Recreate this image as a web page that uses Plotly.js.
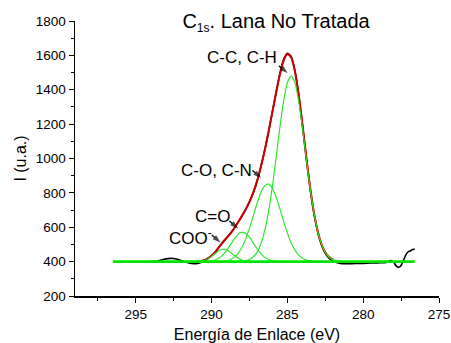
<!DOCTYPE html>
<html>
<head>
<meta charset="utf-8">
<script src="https://cdn.plot.ly/plotly-3.0.1.min.js"></script>
<style>
  html, body { margin: 0; padding: 0; background: #fff; }
  #chart { width: 451px; height: 343px; }
</style>
</head>
<body>
<div id="chart"></div>
<script>
// Measured C1s spectrum (binding energy in eV, intensity in a.u.)
const expEnergy = [296.5, 296.0, 295.5, 295.0, 294.5, 294.0, 293.6, 293.3, 293.0, 292.75,
  292.5, 292.2, 291.9, 291.6, 291.3, 291.0, 290.75, 290.5, 290.25, 290.0,
  289.75, 289.5, 289.25, 289.0, 288.75, 288.5, 288.25, 288.0, 287.75, 287.5,
  287.25, 287.0, 286.75, 286.5, 286.25, 286.0, 285.75, 285.5, 285.25, 285.0,
  284.75, 284.5, 284.25, 284.0, 283.75, 283.5, 283.25, 283.0, 282.75, 282.5,
  282.25, 282.0, 281.75, 281.5, 281.25, 281.0, 280.5, 280.0, 279.5, 279.0,
  278.6, 278.35, 278.2, 278.0, 277.8, 277.65, 277.5, 277.35, 277.2, 277.05,
  276.9, 276.75, 276.6];
const expIntensity = [399, 398, 398, 399, 399, 400, 402, 409, 416, 419,
  418, 412, 403, 395, 389, 388, 393, 406, 418, 433,
  456, 484, 512, 538, 564, 594, 628, 664, 703, 748,
  800, 866, 950, 1044, 1151, 1266, 1381, 1490, 1574, 1612,
  1594, 1510, 1370, 1192, 1004, 828, 683, 574, 498, 448,
  420, 404, 395, 390, 388, 388, 389, 390, 392, 393,
  394, 400, 406, 398, 372, 367, 378, 405, 437, 456,
  462, 470, 474];

// Energy grid shared by the fitted components
const fitEnergy = [291.5, 291.25, 291.0, 290.75, 290.5, 290.25, 290.0, 289.75, 289.5, 289.25,
  289.0, 288.75, 288.5, 288.25, 288.0, 287.75, 287.5, 287.25, 287.0, 286.75,
  286.5, 286.25, 286.0, 285.75, 285.5, 285.25, 285.0, 284.75, 284.5, 284.25,
  284.0, 283.75, 283.5, 283.25, 283.0, 282.75, 282.5, 282.25, 282.0, 281.75,
  281.5];

// Fitted components
const peakCOO = [400, 400, 401, 403, 407, 416, 430, 447, 464, 472,
  468, 454, 436, 421, 410, 404, 401, 400, 400, 400,
  400, 400, 400, 400, 400, 400, 400, 400, 400, 400,
  400, 400, 400, 400, 400, 400, 400, 400, 400, 400,
  400];
const peakCeqO = [400, 400, 400, 400, 401, 402, 404, 410, 421, 439,
  465, 498, 532, 559, 571, 564, 542, 509, 475, 447,
  426, 413, 406, 402, 401, 400, 400, 400, 400, 400,
  400, 400, 400, 400, 400, 400, 400, 400, 400, 400,
  400];
const peakCO = [400, 400, 400, 400, 400, 400, 400, 400, 401, 403,
  406, 413, 426, 448, 482, 531, 593, 665, 738, 801,
  841, 851, 829, 778, 710, 636, 567, 509, 467, 438,
  420, 410, 404, 402, 401, 400, 400, 400, 400, 400,
  400];
const peakCC = [400, 400, 400, 400, 400, 400, 400, 400, 400, 400,
  400, 400, 400, 401, 402, 405, 412, 427, 454, 502,
  577, 686, 829, 998, 1175, 1332, 1441, 1480, 1441, 1332,
  1175, 998, 829, 686, 577, 502, 454, 427, 412, 405,
  402];

// Envelope of the fit
const envEnergy = fitEnergy.slice(2, 39);
const envIntensity = [401, 403, 408, 418, 434, 457, 486, 514, 539, 565,
  594, 629, 665, 704, 748, 801, 867, 950, 1044, 1150,
  1264, 1378, 1486, 1568, 1608, 1589, 1508, 1370, 1195, 1008,
  833, 688, 578, 502, 454, 427, 412];

// Background line
const baseEnergy = [296.5, 276.6];
const baseIntensity = [400, 400];

// Peak labels: text and left/middle anchor (eV, a.u.)
const labelText = ['C-C, C-H', 'C-O, C-N', 'C=O', 'COO<sup>-</sup>'];
const labelX = [290.4, 292.16, 291.24, 292.95];
const labelY = [1585, 929, 661, 545];
// Pointer arrows: tail and tip (eV, a.u.)
const arrowTailX = [285.56, 287.30, 288.82, 289.98];
const arrowTailY = [1540, 930, 636, 555];
const arrowTipX = [284.98, 286.72, 288.24, 289.40];
const arrowTipY = [1497, 887, 593, 512];

const FONT = 'Liberation Sans, Arial, Helvetica, sans-serif';
const GREEN = '#1ee81e';
const SPL = { shape: 'spline', smoothing: 0.6 };

const traces = [
  { x: expEnergy, y: expIntensity, mode: 'lines', line: Object.assign({ color: '#000', width: 1.6 }, SPL) },
  { x: envEnergy, y: envIntensity, mode: 'lines', line: Object.assign({ color: '#d00000', width: 2 }, SPL) },
  { x: fitEnergy, y: peakCOO, mode: 'lines', line: Object.assign({ color: GREEN, width: 1.1 }, SPL) },
  { x: fitEnergy, y: peakCeqO, mode: 'lines', line: Object.assign({ color: GREEN, width: 1.1 }, SPL) },
  { x: fitEnergy, y: peakCO, mode: 'lines', line: Object.assign({ color: GREEN, width: 1.1 }, SPL) },
  { x: fitEnergy, y: peakCC, mode: 'lines', line: Object.assign({ color: GREEN, width: 1.1 }, SPL) },
  { x: baseEnergy, y: baseIntensity, mode: 'lines', line: { color: '#00e600', width: 2.6 } }
];

// Each pointer: a short segment with an arrow-shaped marker at its tip
for (let i = 0; i < arrowTipX.length; i++) {
  traces.push({
    x: [arrowTailX[i], arrowTipX[i]],
    y: [arrowTailY[i], arrowTipY[i]],
    mode: 'lines+markers',
    line: { color: '#000', width: 1.3 },
    marker: { symbol: 'arrow', angleref: 'previous', size: [0, 8.5], color: '#000', line: { width: 0 } }
  });
}

const annotations = labelText.map((t, i) => ({
  x: labelX[i], y: labelY[i], xref: 'x', yref: 'y',
  text: t, showarrow: false,
  xanchor: 'left', yanchor: 'middle',
  font: { family: FONT, size: 17, color: '#000' }
}));

const layout = {
  width: 451, height: 343,
  margin: { l: 75, r: 12, t: 21, b: 47 },
  paper_bgcolor: '#fff', plot_bgcolor: '#fff',
  showlegend: false,
  hovermode: false,
  font: { family: FONT, color: '#000' },
  title: {
    text: 'C<sub><span style="font-size:12px">1s</span></sub>. Lana No Tratada',
    font: { family: FONT, size: 20, color: '#000' },
    x: 0.612, xanchor: 'center', xref: 'container',
    y: 0.94, yanchor: 'middle', yref: 'container'
  },
  xaxis: {
    range: [299, 275], autorange: false,
    dtick: 5, tick0: 275,
    ticks: 'outside', ticklen: 5, tickwidth: 1, tickcolor: '#000',
    minor: { dtick: 2.5, tick0: 275, ticks: 'outside', ticklen: 3, tickwidth: 1, tickcolor: '#000' },
    showline: true, linecolor: '#000', linewidth: 1.5,
    showgrid: false, zeroline: false,
    tickfont: { family: FONT, size: 13.5, color: '#000' },
    title: { text: 'Energía de Enlace (eV)', font: { family: FONT, size: 16, color: '#000' }, standoff: 9 }
  },
  yaxis: {
    range: [200, 1800], autorange: false,
    dtick: 200, tick0: 200,
    ticks: 'outside', ticklen: 5, tickwidth: 1, tickcolor: '#000',
    minor: { dtick: 100, tick0: 200, ticks: 'outside', ticklen: 3, tickwidth: 1, tickcolor: '#000' },
    showline: true, linecolor: '#000', linewidth: 1.5,
    showgrid: false, zeroline: false,
    tickfont: { family: FONT, size: 13.5, color: '#000' },
    title: { text: 'I (u.a.)', font: { family: FONT, size: 16, color: '#000' }, standoff: 5 }
  },
  annotations: annotations
};

Plotly.newPlot('chart', traces, layout, { staticPlot: true, displayModeBar: false });
</script>
</body>
</html>
